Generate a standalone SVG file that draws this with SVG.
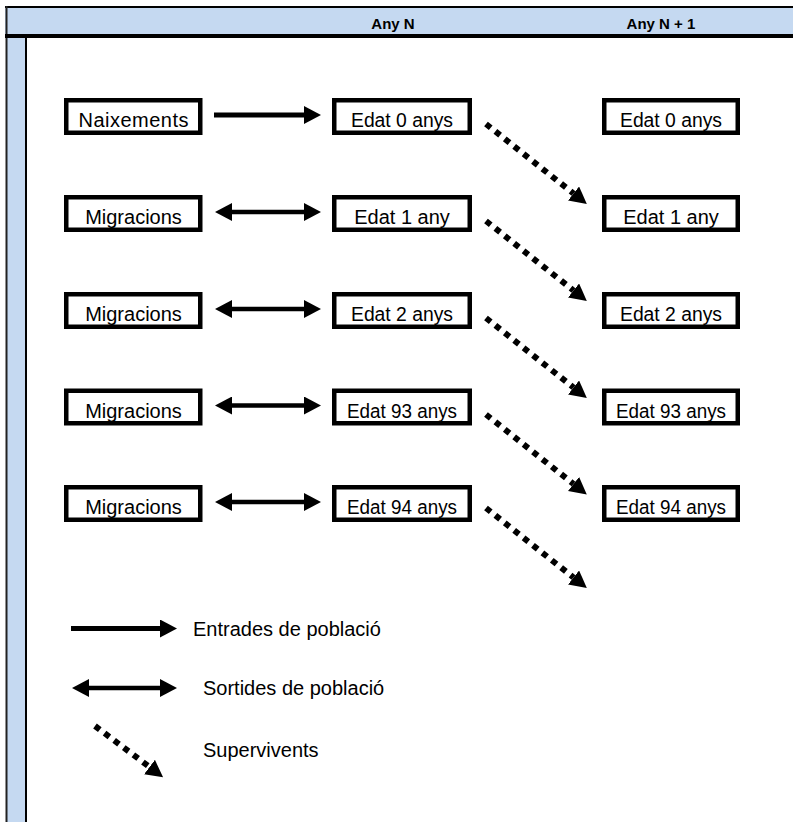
<svg xmlns="http://www.w3.org/2000/svg" width="793" height="822" viewBox="0 0 793 822">
<style>
.box{fill:#fff;stroke:#000;stroke-width:4.5}
.t{font-family:"Liberation Sans",Arial,sans-serif;font-size:20px;fill:#000}
.c{text-anchor:middle}
.h{font-family:"Liberation Sans",Arial,sans-serif;font-size:15px;font-weight:bold;text-anchor:middle;fill:#000}
.solid{stroke:#000;stroke-width:5;fill:none}
.dbl{stroke:#000;stroke-width:4.5;fill:none}
.dot{stroke:#000;stroke-width:6;fill:none;stroke-dasharray:6 6}
</style>
<defs>
<marker id="ah" markerUnits="userSpaceOnUse" markerWidth="17" markerHeight="18" viewBox="0 0 17 18" refX="0" refY="9" orient="auto-start-reverse">
<path d="M0,0 L17,9 L0,18 z" fill="#000"/>
</marker>
</defs>
<g id="frame">
<rect x="5" y="6" width="788" height="30" fill="#C5D9F1"/>
<rect x="7" y="38" width="18" height="784" fill="#C5D9F1"/>
<line x1="5" y1="7" x2="793" y2="7" stroke="#000" stroke-width="2"/>
<line x1="6.5" y1="6" x2="6.5" y2="822" stroke="#222" stroke-width="2"/>
<line x1="5" y1="36" x2="793" y2="36" stroke="#000" stroke-width="4"/>
<line x1="26" y1="38" x2="26" y2="822" stroke="#000" stroke-width="2"/>
<text class="h" x="393" y="29">Any N</text>
<text class="h" x="661" y="29">Any N + 1</text>
</g>
<g id="connectors">
<line class="solid" x1="214" y1="115" x2="304" y2="115" marker-end="url(#ah)"/>
<line class="dbl" x1="232" y1="212" x2="304" y2="212" marker-start="url(#ah)" marker-end="url(#ah)"/>
<line class="dbl" x1="232" y1="309" x2="304" y2="309" marker-start="url(#ah)" marker-end="url(#ah)"/>
<line class="dbl" x1="232" y1="405.5" x2="304" y2="405.5" marker-start="url(#ah)" marker-end="url(#ah)"/>
<line class="dbl" x1="232" y1="502" x2="304" y2="502" marker-start="url(#ah)" marker-end="url(#ah)"/>
<line class="dot" x1="486" y1="124" x2="573.5" y2="193.5" marker-end="url(#ah)"/>
<line class="dot" x1="486" y1="221" x2="573.5" y2="290.5" marker-end="url(#ah)"/>
<line class="dot" x1="486" y1="318" x2="573.5" y2="387.5" marker-end="url(#ah)"/>
<line class="dot" x1="486" y1="414.5" x2="573.5" y2="484" marker-end="url(#ah)"/>
<line class="dot" x1="486" y1="508" x2="573.5" y2="577.5" marker-end="url(#ah)"/>
</g>
<g id="n-naixements"><rect class="box" x="66.25" y="100.25" width="134" height="32.5"/><text class="t c" x="133.5" y="127" textLength="110" lengthAdjust="spacing">Naixements</text></g>
<g id="n-edat0"><rect class="box" x="334.25" y="100.25" width="135.5" height="32.5"/><text class="t c" x="402" y="127" textLength="102" lengthAdjust="spacingAndGlyphs">Edat 0 anys</text></g>
<g id="n-edat0b"><rect class="box" x="604.25" y="100.25" width="133.5" height="32.5"/><text class="t c" x="671" y="127" textLength="102" lengthAdjust="spacingAndGlyphs">Edat 0 anys</text></g>
<g id="n-migr1"><rect class="box" x="66.25" y="197.25" width="134" height="32.5"/><text class="t c" x="133.5" y="224">Migracions</text></g>
<g id="n-edat1"><rect class="box" x="334.25" y="197.25" width="135.5" height="32.5"/><text class="t c" x="402" y="224">Edat 1 any</text></g>
<g id="n-edat1b"><rect class="box" x="604.25" y="197.25" width="133.5" height="32.5"/><text class="t c" x="671" y="224">Edat 1 any</text></g>
<g id="n-migr2"><rect class="box" x="66.25" y="294.25" width="134" height="32.5"/><text class="t c" x="133.5" y="321">Migracions</text></g>
<g id="n-edat2"><rect class="box" x="334.25" y="294.25" width="135.5" height="32.5"/><text class="t c" x="402" y="321" textLength="102" lengthAdjust="spacingAndGlyphs">Edat 2 anys</text></g>
<g id="n-edat2b"><rect class="box" x="604.25" y="294.25" width="133.5" height="32.5"/><text class="t c" x="671" y="321" textLength="102" lengthAdjust="spacingAndGlyphs">Edat 2 anys</text></g>
<g id="n-migr3"><rect class="box" x="66.25" y="390.75" width="134" height="32.5"/><text class="t c" x="133.5" y="417.5">Migracions</text></g>
<g id="n-edat93"><rect class="box" x="334.25" y="390.75" width="135.5" height="32.5"/><text class="t c" x="402" y="417.5" textLength="110" lengthAdjust="spacingAndGlyphs">Edat 93 anys</text></g>
<g id="n-edat93b"><rect class="box" x="604.25" y="390.75" width="133.5" height="32.5"/><text class="t c" x="671" y="417.5" textLength="110" lengthAdjust="spacingAndGlyphs">Edat 93 anys</text></g>
<g id="n-migr4"><rect class="box" x="66.25" y="487.25" width="134" height="32.5"/><text class="t c" x="133.5" y="514">Migracions</text></g>
<g id="n-edat94"><rect class="box" x="334.25" y="487.25" width="135.5" height="32.5"/><text class="t c" x="402" y="514" textLength="110" lengthAdjust="spacingAndGlyphs">Edat 94 anys</text></g>
<g id="n-edat94b"><rect class="box" x="604.25" y="487.25" width="133.5" height="32.5"/><text class="t c" x="671" y="514" textLength="110" lengthAdjust="spacingAndGlyphs">Edat 94 anys</text></g>
<g id="legend">
<line class="solid" x1="71" y1="628.5" x2="160" y2="628.5" stroke-width="6" marker-end="url(#ah)"/>
<line class="dbl" x1="89" y1="688" x2="160" y2="688" marker-start="url(#ah)" marker-end="url(#ah)"/>
<line class="dot" x1="95" y1="726" x2="149.5" y2="767" marker-end="url(#ah)"/>
<text class="t" x="193" y="636" font-size="21">Entrades de població</text>
<text class="t" x="203" y="695" font-size="21">Sortides de població</text>
<text class="t" x="203" y="757" font-size="21">Supervivents</text>
</g>
</svg>
